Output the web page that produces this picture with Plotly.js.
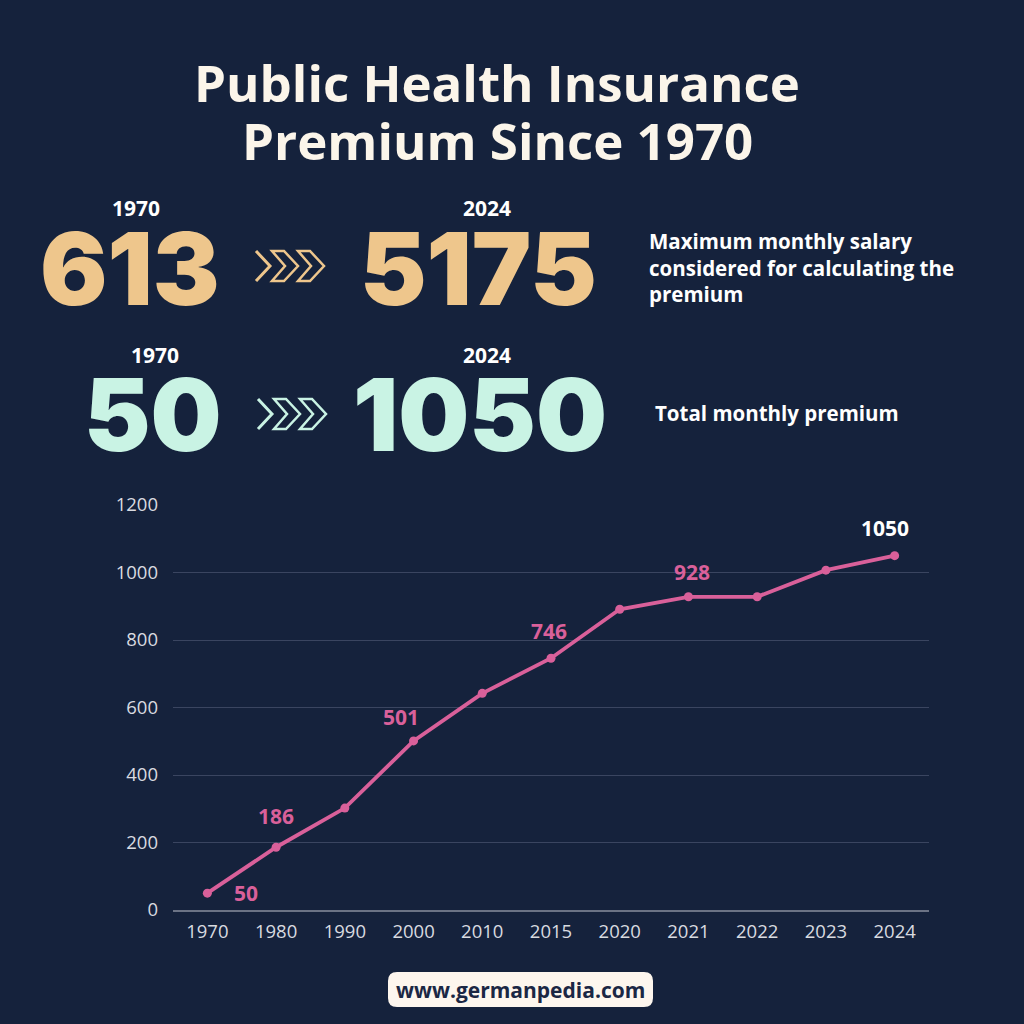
<!DOCTYPE html>
<html>
<head>
<meta charset="utf-8">
<script src="https://cdn.plot.ly/plotly-3.0.1.min.js"></script>
<style>html,body{margin:0;padding:0;background:#15223c;}#chart{width:1024px;height:1024px;}</style>
</head>
<body>
<div id="chart"></div>
<script>
// ---- data ----
const years = ["1970","1980","1990","2000","2010","2015","2020","2021","2022","2023","2024"];
const premium = [50, 186, 302, 501, 642, 746, 891, 928, 928, 1007, 1050];
const labelYears = ["1970","1980","2000","2015","2021","2024"];
const labelValues = [50, 186, 501, 746, 928, 1050];
const yTicks = [0, 200, 400, 600, 800, 1000, 1200];
const salaryStart = 613, salaryEnd = 5175;
const premiumStart = 50, premiumEnd = 1050;
const startYear = "1970", endYear = "2024";

// ---- layout helpers (pixel -> paper) ----
const ML = 173, MR = 95, MT = 505, MB = 114;
const PW = 1024 - ML - MR, PH = 1024 - MT - MB;
const fx = px => (px - ML) / PW;
const fy = py => (1024 - MB - py) / PH;

const BG = "#15223c", PINK = "#d9609a", GOLD = "#eec68c", MINT = "#c9f3e4", CREAM = "#fbf5ea";
const FONT = "Open Sans, Noto Sans, sans-serif";

const trace = {
  x: years, y: premium, type: "scatter", mode: "lines+markers",
  line: {color: PINK, width: 3.8},
  marker: {color: PINK, size: 9},
  hoverinfo: "skip", cliponaxis: false
};

// label offsets (style only)
const labelShift = {
  "1970": [39, 0], "1980": [0, 31], "2000": [-13, 24],
  "2015": [-2, 27], "2021": [4, 25], "2024": [-10, 28]
};

const annotations = [];
labelYears.forEach((yr, i) => {
  const s = labelShift[yr];
  annotations.push({
    x: years.indexOf(yr), y: labelValues[i], xref: "x", yref: "y", text: String(labelValues[i]),
    showarrow: false, xshift: s[0], yshift: s[1],
    font: {family: FONT, size: 21, weight: 700, color: yr === endYear ? "#ffffff" : PINK}
  });
});

function paperText(px, py, text, font, align, xanchor) {
  annotations.push({
    x: fx(px), y: fy(py), xref: "paper", yref: "paper", text: text, showarrow: false,
    xanchor: xanchor || "center", yanchor: "middle", align: align || "center", font: font
  });
}

// title
paperText(497, 82, "Public Health Insurance", {family: FONT, size: 51, weight: 700, color: CREAM});
paperText(497, 140, "Premium Since 1970", {family: FONT, size: 51, weight: 700, color: CREAM});

// big numbers
const bigFont = c => ({family: "Inter, DejaVu Sans, sans-serif", size: 100, weight: 900, color: c});
paperText(130, 268, String(salaryStart), bigFont(GOLD));
paperText(478, 268, String(salaryEnd), bigFont(GOLD));
paperText(153, 415, String(premiumStart), bigFont(MINT));
paperText(480, 415, String(premiumEnd), bigFont(MINT));

// years
const yrFont = {family: FONT, size: 21, weight: 700, color: "#ffffff"};
paperText(136, 208, startYear, yrFont);
paperText(487, 208, endYear, yrFont);
paperText(155, 355, startYear, yrFont);
paperText(487, 355, endYear, yrFont);

// descriptions
const descFont = {family: FONT, size: 20.5, weight: 700, color: "#ffffff"};
paperText(647, 267, "Maximum monthly salary<br>considered for calculating the<br>premium", descFont, "left", "left");
paperText(653, 413, "Total monthly premium", descFont, "left", "left");

// footer
paperText(520, 990, "www.germanpedia.com", {family: FONT, size: 21, weight: 700, color: "#1b2744"});

// shapes
const shapes = [];
function path(pts, close) {
  return pts.map((p, i) => (i ? "L" : "M") + fx(p[0]).toFixed(5) + "," + fy(p[1]).toFixed(5)).join(" ") + (close ? " Z" : "");
}
function chevrons(x0, cy, color) {
  shapes.push({type: "path", xref: "paper", yref: "paper",
    path: path([[x0, cy - 15], [x0 + 14, cy], [x0, cy + 15]], false),
    line: {color: color, width: 3}});
  [16, 42].forEach(dx => {
    const a = x0 + dx;
    shapes.push({type: "path", xref: "paper", yref: "paper",
      path: path([[a, cy - 15], [a + 12, cy - 15], [a + 26, cy], [a + 12, cy + 15], [a, cy + 15], [a + 13, cy]], true),
      line: {color: color, width: 2.5}, fillcolor: "rgba(0,0,0,0)"});
  });
}
chevrons(256, 266, GOLD);
chevrons(258, 414, MINT);

// footer box
(function () {
  const x0 = 388, x1 = 653, y0 = 972, y1 = 1007, r = 9;
  const X = fx, Y = fy;
  const p = `M${X(x0 + r)},${Y(y0)} L${X(x1 - r)},${Y(y0)} Q${X(x1)},${Y(y0)} ${X(x1)},${Y(y0 + r)} L${X(x1)},${Y(y1 - r)} Q${X(x1)},${Y(y1)} ${X(x1 - r)},${Y(y1)} L${X(x0 + r)},${Y(y1)} Q${X(x0)},${Y(y1)} ${X(x0)},${Y(y1 - r)} L${X(x0)},${Y(y0 + r)} Q${X(x0)},${Y(y0)} ${X(x0 + r)},${Y(y0)} Z`;
  shapes.push({type: "path", xref: "paper", yref: "paper", path: p, line: {width: 0}, fillcolor: "#fdf6ee", layer: "below"});
})();

const layout = {
  width: 1024, height: 1024,
  paper_bgcolor: BG, plot_bgcolor: BG,
  margin: {l: ML, r: MR, t: MT, b: MB, pad: 0},
  showlegend: false,
  xaxis: {
    type: "category", range: [-0.5, 10.5], fixedrange: true,
    showgrid: false, zeroline: false, showline: true, linecolor: "#6b7385", linewidth: 1.5,
    ticks: "", tickfont: {family: FONT, size: 18.5, color: "#d9dbe0"}, ticklabelstandoff: 4
  },
  yaxis: {
    range: [0, 1200], tickvals: yTicks, fixedrange: true,
    showgrid: true, gridcolor: "#3a4560", gridwidth: 1, zeroline: false, showline: false,
    ticks: "", tickfont: {family: FONT, size: 18.5, color: "#d9dbe0"}, ticklabelstandoff: 14
  },
  annotations: annotations,
  shapes: shapes
};

Plotly.newPlot("chart", [trace], layout, {displayModeBar: false, staticPlot: true});
</script>
</body>
</html>
